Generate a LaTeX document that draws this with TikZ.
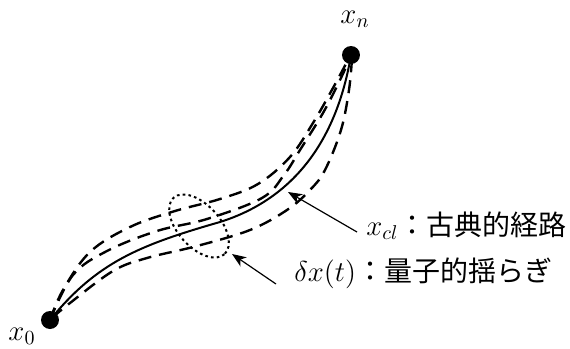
\documentclass[tikz,border=0pt]{standalone}
\usepackage{fontspec}
\newfontfamily\jp{Noto Sans CJK JP}
\usetikzlibrary{arrows.meta}
\begin{document}
\begin{tikzpicture}[x=0.5pt,y=-0.5pt,
  dotnode/.style={circle,fill=black,inner sep=0pt,minimum size=9pt},
  lbl/.style={inner sep=0pt,font=\fontsize{14}{16}\selectfont},
  classical/.style={line width=1pt},
  pathdash/.style={line width=1.2pt,dash pattern=on 6.5pt off 4pt},
  fluct/.style={line width=1pt,dash pattern=on 1.3pt off 1.6pt},
  pointer/.style={line width=0.6pt,-{Stealth[length=7pt,width=5.5pt,inset=2pt]}}]
\useasboundingbox (0,0) rectangle (570,349);
\node[dotnode] (x0) at (50,320) {};
\node[dotnode] (xn) at (351,55) {};
\node[lbl] (lx0) at (22,336) {$x_0$};
\node[lbl] (lxn) at (355,19) {$x_n$};
% dashed paths
\draw[pathdash] plot[smooth,tension=0.6] coordinates {(50,320) (63,290) (90,252) (130,227) (175,211) (220,199) (258,184) (290,157) (313,123) (333,88) (349,58)};
\draw[pathdash] plot[smooth,tension=0.6] coordinates {(50,320) (73,275) (107,251) (157,231) (207,219) (262,198) (284,175) (300,150) (323,113) (340,80) (350,58)};
\draw[pathdash] plot[smooth,tension=0.6] coordinates {(52,318) (70,303) (113,271) (147,258) (197,246) (250,230) (287,210) (310,190) (325,170) (341,130) (349,90) (352,58)};
% classical path
\draw[classical] (x0.center) .. controls (97,262) and (140,245) .. (220,222) coordinate (m)
  .. controls (290,200) and (336,145) .. (xn.center);
% fluctuation ellipse
\draw[fluct] (199,226) ellipse[x radius=38,y radius=21,rotate=-48];
\coordinate (t1) at (357,232);
\coordinate (h1) at (288,192);
\coordinate (t2) at (276,284);
\coordinate (h2) at (232,254);
\draw[pointer] (t1) -- (h1);
\draw[pointer] (t2) -- (h2);
\node[lbl,anchor=base west] (l1) at (366,235) {$x_{cl}${\jp ：古典的経路}};
\node[lbl,anchor=base west] (l2) at (294,281) {$\delta x(t)${\jp ：量子的揺らぎ}};
\end{tikzpicture}
\end{document}
